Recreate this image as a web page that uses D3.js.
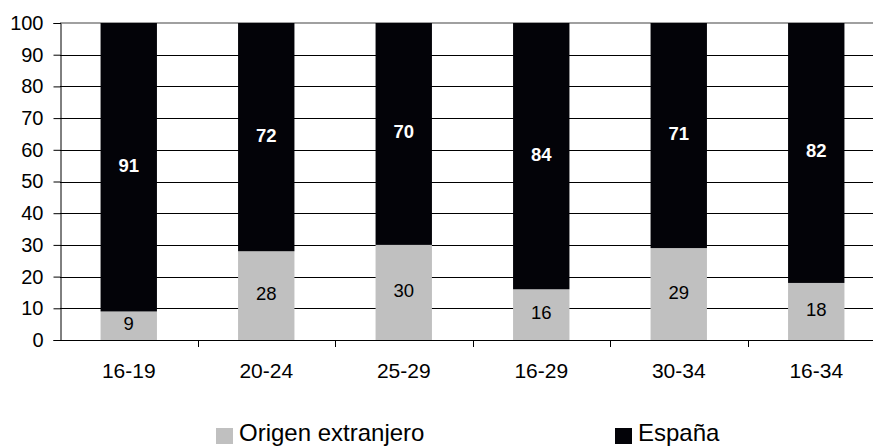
<!DOCTYPE html>
<html>
<head>
<meta charset="utf-8">
<script src="https://cdn.jsdelivr.net/npm/d3@7"></script>
<style>
  html, body { margin: 0; padding: 0; background: #fff; }
  svg { display: block; font-family: Arial, "Liberation Sans", sans-serif; }
</style>
</head>
<body>
<div id="chart"></div>
<script>
// Data
const categories = ['16-19', '20-24', '25-29', '16-29', '30-34', '16-34'];
const extranjero = [9, 28, 30, 16, 29, 18];
const espana = [91, 72, 70, 84, 71, 82];
const yTicks = [0, 10, 20, 30, 40, 50, 60, 70, 80, 90, 100];
const seriesNames = ['Origen extranjero', 'España'];

const width = 873;
const height = 446;
const plot = { left: 60, right: 885, top: 23, bottom: 340 };

const colors = { 'Origen extranjero': '#c0c0c0', 'España': '#030308' };

const rows = categories.map((c, i) => ({ cat: c, 'Origen extranjero': extranjero[i], 'España': espana[i] }));
const stacked = d3.stack().keys(seriesNames)(rows);

const x = d3.scaleBand()
  .domain(categories)
  .range([plot.left, plot.right])
  .paddingInner(0.59)
  .paddingOuter(0.295);

// one full slot per category, for the axis ticks between them
const xBound = d3.scaleBand().domain(categories).range([plot.left, plot.right]);

const y = d3.scaleLinear().domain([0, 100]).range([plot.bottom, plot.top]);

const svg = d3.select('#chart').append('svg')
  .attr('width', width)
  .attr('height', height)
  .attr('viewBox', [0, 0, width, height]);

// Gridlines
svg.append('g')
  .selectAll('line')
  .data(yTicks.filter(d => d > 0 && d < 100))
  .join('line')
  .attr('x1', plot.left).attr('x2', plot.right)
  .attr('y1', d => Math.round(y(d)) + 0.5)
  .attr('y2', d => Math.round(y(d)) + 0.5)
  .attr('stroke', '#000')
  .attr('stroke-width', 1);

// Top border (gray)
svg.append('line')
  .attr('x1', plot.left).attr('x2', plot.right)
  .attr('y1', y(100)).attr('y2', y(100))
  .attr('stroke', '#a0a0a0')
  .attr('stroke-width', 2);

// Bars
svg.append('g')
  .selectAll('g')
  .data(stacked)
  .join('g')
  .attr('fill', d => colors[d.key])
  .selectAll('rect')
  .data(d => d)
  .join('rect')
  .attr('x', d => x(d.data.cat))
  .attr('width', x.bandwidth())
  .attr('y', d => y(d[1]))
  .attr('height', d => y(d[0]) - y(d[1]));

// Value labels
svg.append('g')
  .selectAll('g')
  .data(stacked)
  .join('g')
  .selectAll('text')
  .data(d => d.map(v => ({ key: d.key, v })))
  .join('text')
  .attr('x', d => x(d.v.data.cat) + x.bandwidth() / 2)
  .attr('y', d => y((d.v[0] + d.v[1]) / 2) - 2)
  .attr('dy', '0.35em')
  .attr('text-anchor', 'middle')
  .attr('font-size', '18.5px')
  .attr('font-weight', d => d.key === 'España' ? 'bold' : 'normal')
  .attr('fill', d => d.key === 'España' ? '#fff' : '#000')
  .text(d => d.v.data[d.key]);

// Y axis
const yAxis = d3.axisLeft(y).tickValues(yTicks).tickSize(7).tickPadding(10);
svg.append('g')
  .attr('transform', `translate(${plot.left + 0.5},0)`)
  .call(yAxis)
  .call(g => g.select('.domain').attr('stroke', '#000'))
  .call(g => g.selectAll('.tick line').attr('stroke', '#000'))
  .call(g => g.selectAll('text').attr('font-size', '20px').attr('fill', '#000').attr('font-family', 'Arial, "Liberation Sans", sans-serif'));

// X axis
const xAxis = d3.axisBottom(xBound).tickSize(0).tickPadding(23);
svg.append('g')
  .attr('transform', `translate(0,${plot.bottom + 0.5})`)
  .call(xAxis)
  .call(g => g.select('.domain').attr('stroke', '#000').attr('d', `M${plot.left},0H${plot.right}`))
  .call(g => g.selectAll('text').attr('font-size', '21px').attr('fill', '#000').attr('font-family', 'Arial, "Liberation Sans", sans-serif'));

// Category boundary ticks
svg.append('g')
  .selectAll('line')
  .data(categories.slice(1))
  .join('line')
  .attr('x1', d => Math.round(xBound(d)) + 0.5)
  .attr('x2', d => Math.round(xBound(d)) + 0.5)
  .attr('y1', plot.bottom)
  .attr('y2', plot.bottom + 7)
  .attr('stroke', '#000');

// Legend
const legendItems = [
  { name: 'Origen extranjero', x: 216 },
  { name: 'España', x: 615 }
];
const lg = svg.append('g');
legendItems.forEach(item => {
  lg.append('rect')
    .attr('x', item.x)
    .attr('y', 428)
    .attr('width', 17)
    .attr('height', 16)
    .attr('fill', colors[item.name]);
  lg.append('text')
    .attr('x', item.x + 23)
    .attr('y', 440.5)
    .attr('font-size', '24px')
    .attr('fill', '#000')
    .text(item.name);
});
</script>
</body>
</html>
